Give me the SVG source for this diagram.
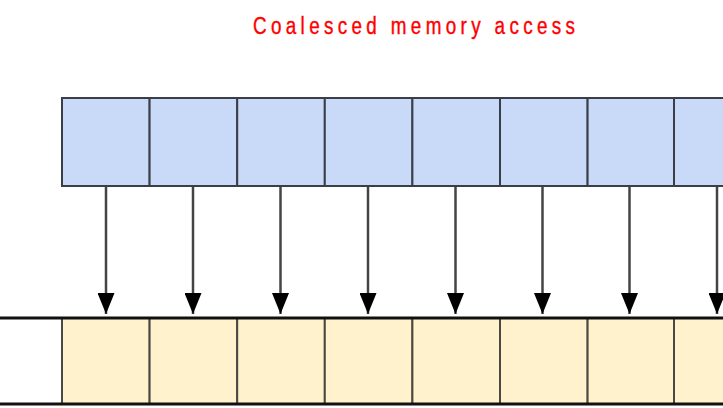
<svg xmlns="http://www.w3.org/2000/svg" width="723" height="408" viewBox="0 0 723 408">
<style>
.top{fill:#c9daf8;stroke:#3a3f47;stroke-width:2}
.bot{fill:#fff2cc;stroke:#4a4a44;stroke-width:2}
.hl{stroke:#111;stroke-width:3}
.arr{stroke:#444;stroke-width:2.5;fill:none;marker-end:url(#ah)}
.title{font-family:"Liberation Sans",Arial,sans-serif;font-size:23px;fill:#ff0000;stroke:#ff0000;stroke-width:0.4}
</style>
<defs>
<marker id="ah" markerUnits="userSpaceOnUse" markerWidth="21" markerHeight="17" refX="21" refY="8.5" orient="auto">
<path d="M0,0 L21,8.5 L0,17 Z" fill="#000"/>
</marker>
</defs>
<rect width="723" height="408" fill="#fff"/>
<text class="title" transform="scale(0.82,1)" x="308.5" y="34" textLength="392.7" lengthAdjust="spacing">Coalesced memory access</text>
<g id="top-row">
<g id="t0"><rect class="top" x="62" y="98" width="87.6" height="88"/></g>
<g id="t1"><rect class="top" x="149.6" y="98" width="87.6" height="88"/></g>
<g id="t2"><rect class="top" x="237.2" y="98" width="87.6" height="88"/></g>
<g id="t3"><rect class="top" x="324.8" y="98" width="87.6" height="88"/></g>
<g id="t4"><rect class="top" x="412.4" y="98" width="87.6" height="88"/></g>
<g id="t5"><rect class="top" x="500" y="98" width="87.6" height="88"/></g>
<g id="t6"><rect class="top" x="587.6" y="98" width="86.4" height="88"/></g>
<g id="t7"><rect class="top" x="674" y="98" width="87.6" height="88"/></g>
</g>
<g id="bottom-row">
<g id="bw"><rect x="-30" y="318" width="92" height="86" fill="#fff"/></g>
<g id="b0"><rect class="bot" x="62" y="318" width="87.6" height="86"/></g>
<g id="b1"><rect class="bot" x="149.6" y="318" width="87.6" height="86"/></g>
<g id="b2"><rect class="bot" x="237.2" y="318" width="87.6" height="86"/></g>
<g id="b3"><rect class="bot" x="324.8" y="318" width="87.6" height="86"/></g>
<g id="b4"><rect class="bot" x="412.4" y="318" width="87.6" height="86"/></g>
<g id="b5"><rect class="bot" x="500" y="318" width="87.6" height="86"/></g>
<g id="b6"><rect class="bot" x="587.6" y="318" width="86.4" height="86"/></g>
<g id="b7"><rect class="bot" x="674" y="318" width="87.6" height="86"/></g>
<line class="hl" x1="0" y1="318" x2="723" y2="318"/>
<line class="hl" x1="0" y1="404" x2="723" y2="404"/>
</g>
<g id="connectors">
<line class="arr" x1="106" y1="187" x2="106" y2="314"/>
<line class="arr" x1="193" y1="187" x2="193" y2="314"/>
<line class="arr" x1="280.5" y1="187" x2="280.5" y2="314"/>
<line class="arr" x1="368" y1="187" x2="368" y2="314"/>
<line class="arr" x1="455.5" y1="187" x2="455.5" y2="314"/>
<line class="arr" x1="542.5" y1="187" x2="542.5" y2="314"/>
<line class="arr" x1="629.5" y1="187" x2="629.5" y2="314"/>
<line class="arr" x1="717" y1="187" x2="717" y2="314"/>
</g>
</svg>
